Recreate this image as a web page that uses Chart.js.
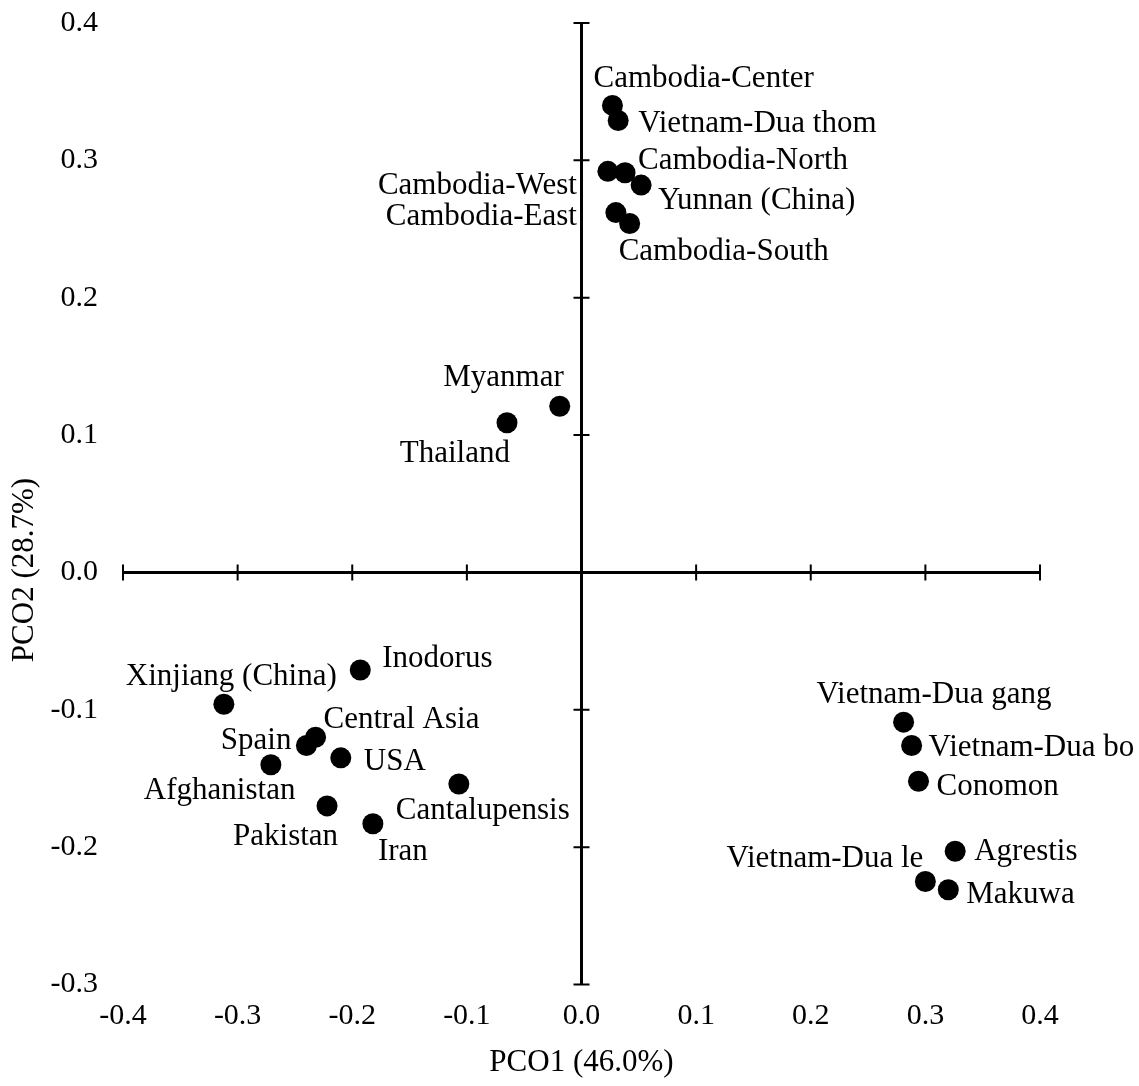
<!DOCTYPE html>
<html><head><meta charset="utf-8">
<script src="https://cdn.jsdelivr.net/npm/chart.js@4"></script>
<style>html,body{margin:0;padding:0;background:#fff;}#wrap{width:1139px;height:1086px;}</style>
</head><body><div id="wrap"><canvas id="c" width="1139" height="1086"></canvas></div>
<script>
// ---- data ----
const accessions = ['Cambodia-Center','Vietnam-Dua thom','Cambodia-West','Cambodia-North','Yunnan (China)','Cambodia-East','Cambodia-South','Myanmar','Thailand','Inodorus','Xinjiang (China)','Central Asia','Spain','USA','Afghanistan','Cantalupensis','Pakistan','Iran','Vietnam-Dua gang','Vietnam-Dua bo','Conomon','Agrestis','Vietnam-Dua le','Makuwa'];
const pco1 = [0.027,0.032,0.023,0.038,0.052,0.030,0.042,-0.019,-0.065,-0.193,-0.312,-0.232,-0.240,-0.210,-0.271,-0.107,-0.222,-0.182,0.281,0.288,0.294,0.326,0.300,0.320];
const pco2 = [0.340,0.329,0.292,0.291,0.282,0.262,0.254,0.121,0.109,-0.071,-0.096,-0.120,-0.126,-0.135,-0.140,-0.154,-0.170,-0.183,-0.109,-0.126,-0.152,-0.203,-0.225,-0.231];
const xTicks = [-0.4,-0.3,-0.2,-0.1,0.0,0.1,0.2,0.3,0.4];
const yTicks = [-0.3,-0.2,-0.1,0.0,0.1,0.2,0.3,0.4];
const xTitle = 'PCO1 (46.0%)';
const yTitle = 'PCO2 (28.7%)';

// ---- label placement (text offset from point in px, alignment) ----
const labelPlace = {
  'Cambodia-Center':[-19,-27,'left'], 'Vietnam-Dua thom':[20,3,'left'], 'Cambodia-West':[-31,15,'right'],
  'Cambodia-North':[13,-12,'left'], 'Yunnan (China)':[17,16,'left'], 'Cambodia-East':[-39,4,'right'],
  'Cambodia-South':[-11,28,'left'], 'Myanmar':[4,-28,'right'], 'Thailand':[3,31,'right'],
  'Inodorus':[22,-11,'left'], 'Xinjiang (China)':[-98,-27,'left'], 'Central Asia':[8,-17,'left'],
  'Spain':[-15,-5,'right'], 'USA':[23,4,'left'], 'Afghanistan':[-127,26,'left'],
  'Cantalupensis':[-63,27,'left'], 'Pakistan':[-94,31,'left'], 'Iran':[5,28,'left'],
  'Vietnam-Dua gang':[-87,-27,'left'], 'Vietnam-Dua bo':[17,2,'left'], 'Conomon':[18,6,'left'],
  'Agrestis':[19,1,'left'], 'Vietnam-Dua le':[-2,-23,'right'], 'Makuwa':[18,5,'left']
};

const FONT = '"Liberation Serif", "Times New Roman", serif';
const FS = 30;   // tick labels
const LFS = 31;  // point labels and titles
const fmt = v => (Math.abs(v) < 1e-9 ? 0 : v).toFixed(1);

const crossAxes = {
  id: 'crossAxes',
  beforeDatasetsDraw(chart) {
    const {ctx, scales: {x, y}} = chart;
    const x0 = x.getPixelForValue(0), y0 = y.getPixelForValue(0);
    ctx.save();
    ctx.strokeStyle = '#000';
    ctx.lineWidth = 3;
    ctx.beginPath();
    ctx.moveTo(x.getPixelForValue(xTicks[0]), y0);
    ctx.lineTo(x.getPixelForValue(xTicks[xTicks.length-1]), y0);
    ctx.moveTo(x0, y.getPixelForValue(yTicks[yTicks.length-1]));
    ctx.lineTo(x0, y.getPixelForValue(yTicks[0]));
    ctx.stroke();
    ctx.lineWidth = 2;
    ctx.beginPath();
    xTicks.forEach(v => { const p = x.getPixelForValue(v); ctx.moveTo(p, y0-8); ctx.lineTo(p, y0+8); });
    yTicks.forEach(v => { const p = y.getPixelForValue(v); ctx.moveTo(x0-8, p); ctx.lineTo(x0+8, p); });
    ctx.stroke();
    ctx.restore();
  },
  afterDatasetsDraw(chart) {
    const {ctx} = chart;
    const meta = chart.getDatasetMeta(0);
    ctx.save();
    ctx.fillStyle = '#000';
    ctx.font = LFS + 'px ' + FONT;
    ctx.textBaseline = 'middle';
    meta.data.forEach((pt, i) => {
      const name = accessions[i];
      const [dx, dy, al] = labelPlace[name];
      ctx.textAlign = al;
      ctx.fillText(name, pt.x + dx, pt.y + dy);
    });
    // y axis title
    ctx.translate(25, 570);
    ctx.rotate(-Math.PI/2);
    ctx.textAlign = 'center';
    ctx.fillText(yTitle, 0, 0);
    ctx.restore();
  }
};

new Chart(document.getElementById('c'), {
  type: 'scatter',
  data: {
    datasets: [{
      data: pco1.map((v, i) => ({x: v, y: pco2[i]})),
      backgroundColor: '#000', borderColor: '#000', pointRadius: 10.5, pointHoverRadius: 10.5, borderWidth: 0
    }]
  },
  options: {
    responsive: false, animation: false, devicePixelRatio: 1,
    layout: {padding: {top: 23, right: 99, left: 0, bottom: 0}},
    plugins: {legend: {display: false}, tooltip: {enabled: false}},
    scales: {
      x: {
        type: 'linear', min: -0.4, max: 0.4,
        afterBuildTicks: s => { s.ticks = xTicks.map(v => ({value: v})); },
        afterFit: s => { s.height = 101.5; s.paddingLeft = 0; s.paddingRight = 0; },
        grid: {display: false, drawTicks: false}, border: {display: false},
        ticks: {padding: 14, color: '#000', font: {family: FONT, size: FS}, callback: v => fmt(v), maxRotation: 0, autoSkip: false},
        title: {display: true, text: xTitle, color: '#000', font: {family: FONT, size: LFS}, padding: {top: 0, bottom: 5}}
      },
      y: {
        type: 'linear', min: -0.3, max: 0.4,
        afterBuildTicks: s => { s.ticks = yTicks.map(v => ({value: v})); },
        afterFit: s => { s.width = 123; s.paddingTop = 0; s.paddingBottom = 0; },
        grid: {display: false, drawTicks: false}, border: {display: false},
        ticks: {padding: 25, color: '#000', font: {family: FONT, size: FS}, callback: v => fmt(v), autoSkip: false},
        title: {display: false}
      }
    }
  },
  plugins: [crossAxes]
});
</script>
</body></html>
